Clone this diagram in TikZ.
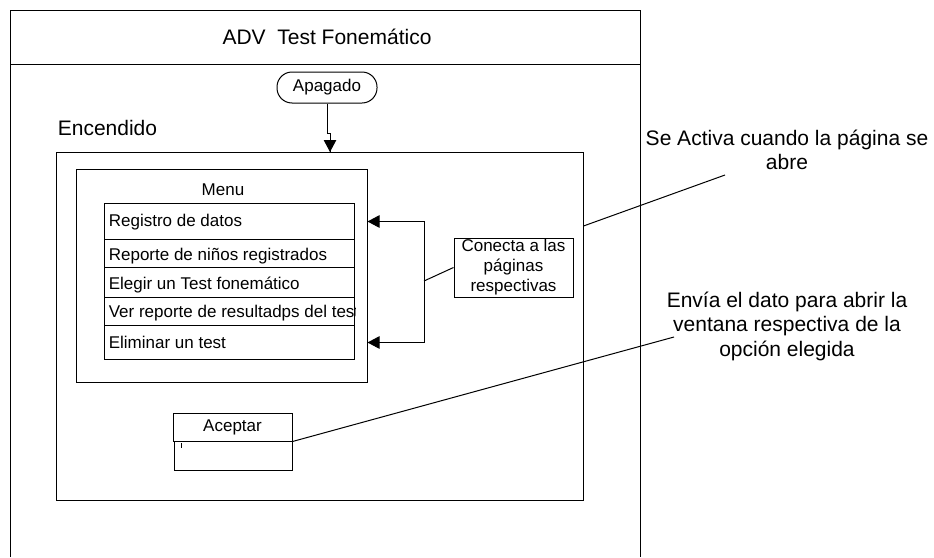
\documentclass[tikz,border=0pt]{standalone}
\usepackage{fontspec}
\setmainfont{Liberation Sans}
\usetikzlibrary{arrows.meta}
\usetikzlibrary{decorations.markings}
\tikzset{flecha/.style = {decoration={markings,
                                      mark=at position 1 with {\arrow{Triangle[length=12pt, width=12.5pt]}}},
                          postaction={decorate}}}
\tikzset{caja/.style = {draw, rectangle, inner sep = 0}}
\tikzset{chico/.style = {font=\fontsize{17}{20}\selectfont}}
\tikzset{grande/.style = {font=\fontsize{21}{24.5}\selectfont, align=center}}

\begin{document}
\begin{tikzpicture}[x=1pt, y=-1pt, line width=1pt]
      \useasboundingbox (0,0) rectangle (934,557);

      \draw (10,557) -- (10,10) -- (640,10) -- (640,557);
      \draw (10,64) -- (640,64);
      \node [grande] (titulo) at (327,37) {ADV\ \ Test Fonemático};

      \node [caja, rounded corners=15, minimum width=100, minimum height=31, chico] (apagado) at (327,87.5) {Apagado};

      \node [grande, anchor=west] (etiqueta) at (54,128) {Encendido};
      \node [caja, minimum width=527, minimum height=348] (encendido) at (319.5,326) {};
      \coordinate (entrada) at (330,152);
      \draw [flecha] (apagado.south) -- ++(0,30) -| (entrada);

      \node [caja, minimum width=291, minimum height=213] (menu) at (221.5,275.5) {};
      \node [chico] (titmenu) at (223,190) {Menu};

      \node [caja, anchor=north west, minimum width=250, minimum height=36] (registro) at (104,203) {};
      \node [chico, anchor=west] (tregistro) at (105,222) {Registro de datos};
      \node [caja, anchor=north west, minimum width=250, minimum height=28] (reporte) at (104,239) {};
      \node [chico, anchor=west] (treporte) at (105,256) {Reporte de niños registrados};
      \node [caja, anchor=north west, minimum width=250, minimum height=30] (elegir) at (104,267) {};
      \node [chico, anchor=west] (telegir) at (105,285) {Elegir un Test fonemático};
      \node [caja, anchor=north west, minimum width=250, minimum height=28] (verrep) at (104,297) {};
      \begin{scope}
        \clip (verrep.north west) rectangle (verrep.south east);
        \node [chico, anchor=west] (tverrep) at (105,313) {Ver reporte de resultadps del test};
      \end{scope}
      \node [caja, anchor=north west, minimum width=250, minimum height=34] (eliminar) at (104,325) {};
      \node [chico, anchor=west] (teliminar) at (105,342) {Eliminar un test};

      \node [caja, minimum width=119, minimum height=59, chico, align=center] (conecta) at (513.5,267.5) {Conecta a las\\páginas\\respectivas};
      \coordinate (rama) at (424,281);
      \draw (rama) -- (conecta.west);
      \draw [flecha] (rama) |- (menu.east |- registro.east);
      \draw [flecha] (rama) |- (menu.east |- eliminar.east);

      \node [caja, minimum width=119, minimum height=28, chico] (aceptar) at (232.5,427) {Aceptar};
      \node [caja, minimum width=118, minimum height=29] (cuerpo) at (233,455.5) {};
      \draw [line width=0.8pt] (181,443) -- (181,448);

      \node [grande] (activa) at (787,150) {Se Activa cuando la página se\\abre};
      \node [grande] (envia) at (787,326) {Envía el dato para abrir la\\ventana respectiva de la\\opción elegida};
      \coordinate (salida) at (encendido.east |- 0,226);
      \coordinate (fin1) at (725,175);
      \draw (salida) -- (fin1);
      \coordinate (fin2) at (674,337);
      \draw (aceptar.south east) -- (fin2);
    \end{tikzpicture}
\end{document}
